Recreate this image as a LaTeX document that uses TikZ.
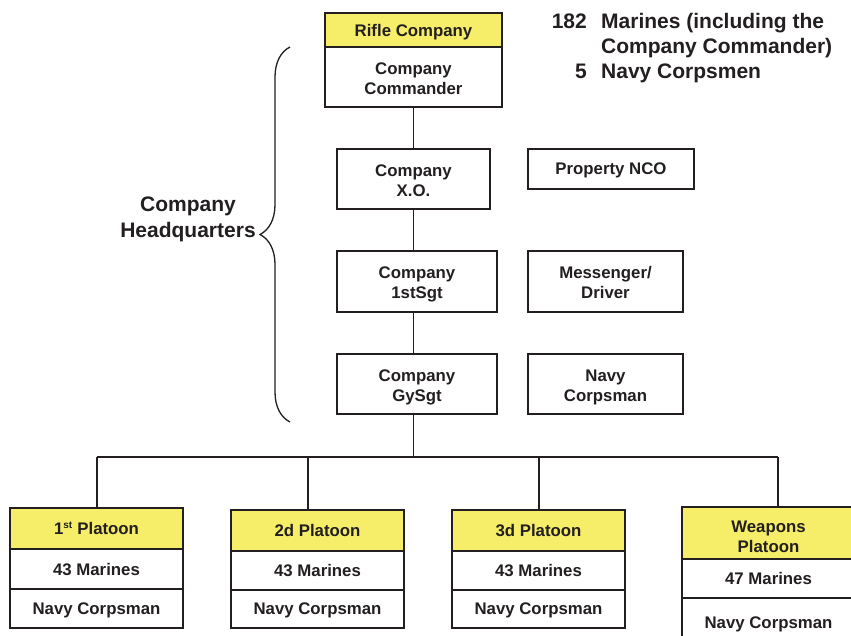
\documentclass[tikz,border=0pt]{standalone}
\usepackage{fontspec}
\setmainfont{Liberation Sans}
\usetikzlibrary{decorations.pathreplacing}
\definecolor{ink}{HTML}{231F20}
\definecolor{hdr}{RGB}{246,238,104}
\begin{document}
\begin{tikzpicture}[x=1pt,y=-1pt,
  box/.style={draw=ink, line width=2.6pt, fill=white, align=center,
    inner sep=0pt, text depth=0pt, text=ink, font=\bfseries\fontsize{16.8}{20}\selectfont},
  head/.style={box, fill=hdr},
  link/.style={draw=ink, line width=1.4pt},
  note/.style={text=ink, inner sep=0pt, font=\bfseries\fontsize{21}{25}\selectfont}]
\path[use as bounding box, clip] (0,0) rectangle (851,636);

% company headquarters column
\node[head, minimum width=177, minimum height=34] (rifle) at (413.5,30) {Rifle Company};
\node[box, minimum width=177, minimum height=60] (cmd) at (413.5,77) {\rule{0pt}{14.5pt}Company\\Commander};
\node[box, minimum width=153, minimum height=60] (xo) at (413.5,179) {\rule{0pt}{14.5pt}Company\\X.O.};
\node[box, minimum width=166, minimum height=40] (nco) at (611,169) {Property NCO};
\node[box, minimum width=160, minimum height=61] (sgt) at (417,281.5) {\rule{0pt}{14.5pt}Company\\1stSgt};
\node[box, minimum width=155, minimum height=61] (msg) at (605.5,281.5) {\rule{0pt}{14.5pt}Messenger/\\Driver};
\node[box, minimum width=160, minimum height=60] (gy) at (417,384) {\rule{0pt}{14.5pt}Company\\GySgt};
\node[box, minimum width=155, minimum height=60] (doc) at (605.5,384) {\rule{0pt}{14.5pt}Navy\\Corpsman};

% platoons
\node[head, minimum width=173, minimum height=41] (p1a) at (96.5,528.5) {1\textsuperscript{\fontsize{10}{10}\selectfont st} Platoon};
\node[box, minimum width=173, minimum height=40] (p1b) at (96.5,569) {43 Marines};
\node[box, minimum width=173, minimum height=39] (p1c) at (96.5,608.5) {Navy Corpsman};

\node[head, minimum width=173, minimum height=41] (p2a) at (317.5,530.5) {2d Platoon};
\node[box, minimum width=173, minimum height=39] (p2b) at (317.5,570.5) {43 Marines};
\node[box, minimum width=173, minimum height=38] (p2c) at (317.5,609) {Navy Corpsman};

\node[head, minimum width=173, minimum height=41] (p3a) at (538.5,530.5) {3d Platoon};
\node[box, minimum width=173, minimum height=39] (p3b) at (538.5,570.5) {43 Marines};
\node[box, minimum width=173, minimum height=38] (p3c) at (538.5,609) {Navy Corpsman};

\node[head, minimum width=173, minimum height=52] (p4a) at (768.5,533) {\rule{0pt}{18pt}Weapons\\Platoon};
\node[box, minimum width=173, minimum height=39] (p4b) at (768.5,578.5) {47 Marines};
\node[box, minimum width=173, minimum height=50] (p4c) at (768.5,623) {Navy Corpsman};

% chain of command
\draw[link] (cmd.south) -- (cmd.south |- xo.north);
\draw[link] (xo.south) -- (xo.south |- sgt.north);
\draw[link] (xo.south |- sgt.south) -- (xo.south |- gy.north);
\coordinate (bus) at (413.5,457);
\draw[link] (xo.south |- gy.south) -- (bus);
\coordinate (d1) at (97,457);
\coordinate (d2) at (308,457);
\coordinate (d3) at (539,457);
\coordinate (d4) at (778,457);
\draw[link] (d1) -- (d4);
\draw[link] (d1) -- (d1 |- p1a.north);
\draw[link] (d2) -- (d2 |- p2a.north);
\draw[link] (d3) -- (d3 |- p3a.north);
\draw[link] (d4) -- (d4 |- p4a.north);

% headquarters brace
\coordinate (bb) at (290,422);
\coordinate (bt) at (290,47);
\draw[ink, line width=1.3pt, decorate,
  decoration={brace, amplitude=30pt, aspect=0.5}] (bb) -- (bt);
\node[note, align=center, font=\bfseries\fontsize{21}{26}\selectfont] (hq) at (188,219) {Company\\Headquarters};

% strength summary
\node[note, anchor=base east] (n182) at (587,29) {182};
\node[note, anchor=base west] (t1) at (601,29) {Marines (including the};
\node[note, anchor=base west] (t2) at (601,54) {Company Commander)};
\node[note, anchor=base east] (n5) at (587,79) {5};
\node[note, anchor=base west] (t3) at (601,79) {Navy Corpsmen};
\end{tikzpicture}
\end{document}
